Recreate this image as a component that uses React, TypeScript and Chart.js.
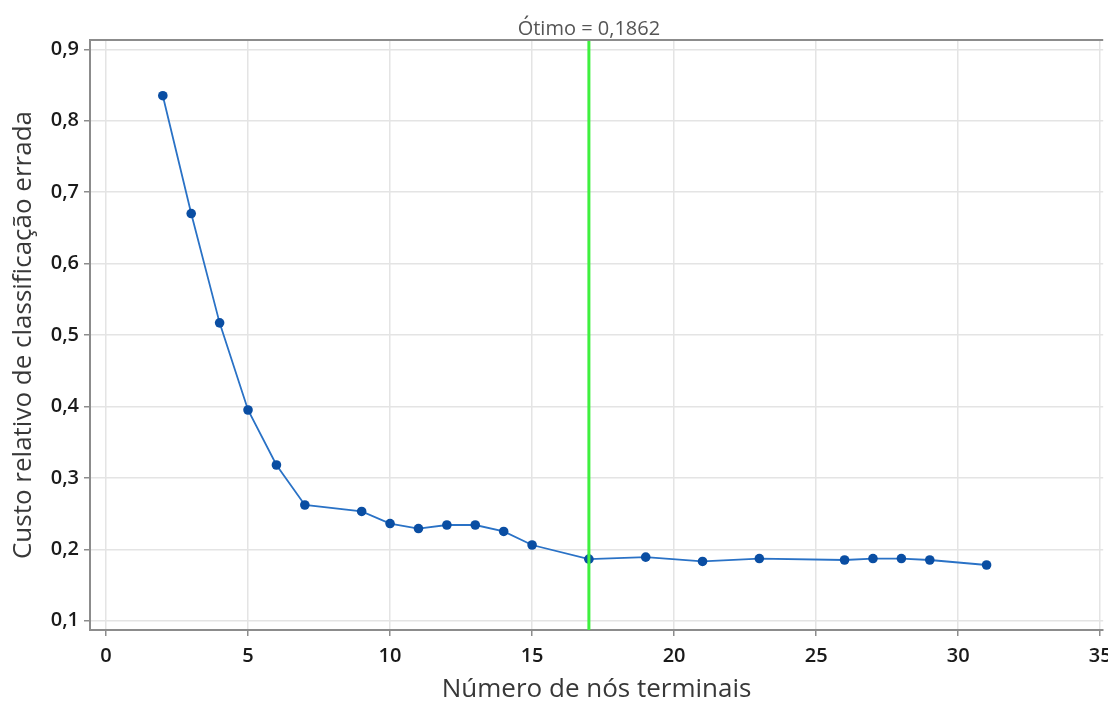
import React, { useEffect, useRef } from "react";
import { Chart, registerables } from "chart.js";

Chart.register(...registerables);

// Terminal-node counts and their relative misclassification cost
const terminalNodes = [2, 3, 4, 5, 6, 7, 9, 10, 11, 12, 13, 14, 15, 17, 19, 21, 23, 26, 27, 28, 29, 31];
const relativeCost = [
  0.835, 0.670, 0.517, 0.395, 0.318, 0.262, 0.253, 0.236, 0.229, 0.234, 0.234,
  0.225, 0.206, 0.1862, 0.189, 0.183, 0.187, 0.185, 0.187, 0.187, 0.185, 0.178,
];

// Selected tree size
const optimalNodes = 17;
const optimalCost = 0.1862;

const xTickValues = [0, 5, 10, 15, 20, 25, 30, 35];
const yTickValues = [0.1, 0.2, 0.3, 0.4, 0.5, 0.6, 0.7, 0.8, 0.9];

const xTitle = "Número de nós terminais";
const yTitle = "Custo relativo de classificação errada";
const optimalLabel = `Ótimo = ${optimalCost.toString().replace(".", ",")}`;

const FONT = "'Open Sans', 'Noto Sans', sans-serif";

const optimalLinePlugin = {
  id: "optimalLine",
  afterDatasetsDraw(chart: any) {
    const { ctx, chartArea, scales } = chart;
    const x = scales.x.getPixelForValue(optimalNodes);
    ctx.save();
    ctx.strokeStyle = "#3ff03f";
    ctx.lineWidth = 3;
    ctx.beginPath();
    ctx.moveTo(x, chartArea.top);
    ctx.lineTo(x, chartArea.bottom);
    ctx.stroke();
    ctx.restore();
  },
  afterDraw(chart: any) {
    const { ctx, chartArea, scales } = chart;
    const x = scales.x.getPixelForValue(optimalNodes);
    ctx.save();
    // top frame line
    ctx.strokeStyle = "#8c8c8c";
    ctx.lineWidth = 2;
    ctx.beginPath();
    ctx.moveTo(chartArea.left - 1, chartArea.top);
    ctx.lineTo(chartArea.right, chartArea.top);
    ctx.stroke();
    // optimum label
    ctx.fillStyle = "#555555";
    ctx.font = `20px ${FONT}`;
    ctx.textAlign = "center";
    ctx.textBaseline = "alphabetic";
    ctx.fillText(optimalLabel, x, chartArea.top - 5);
    ctx.restore();
  },
};

export default function App() {
  const canvasRef = useRef<HTMLCanvasElement | null>(null);

  useEffect(() => {
    if (!canvasRef.current) return;
    const points = terminalNodes.map((n, i) => ({ x: n, y: relativeCost[i] }));
    const chart = new Chart(canvasRef.current, {
      type: "scatter",
      data: {
        datasets: [
          {
            data: points,
            showLine: true,
            borderColor: "#2a72c6",
            borderWidth: 1.8,
            pointBackgroundColor: "#0a4ea3",
            pointBorderColor: "#0a4ea3",
            pointRadius: 4.8,
            pointBorderWidth: 0,
          },
        ],
      },
      options: {
        responsive: false,
        animation: false,
        devicePixelRatio: 1,
        layout: { padding: { top: 40, right: 0, left: 0, bottom: 0 } },
        plugins: { legend: { display: false }, tooltip: { enabled: false } },
        scales: {
          x: {
            type: "linear",
            min: -0.563,
            max: 35.105,
            afterBuildTicks: (s: any) => {
              s.ticks = xTickValues.map((v) => ({ value: v }));
            },
            afterFit: (s: any) => {
              s.height = 74;
              s.paddingLeft = 0;
              s.paddingRight = 0;
            },
            grid: { color: "#e4e4e4", lineWidth: 1.5, tickLength: 6, tickColor: "#8c8c8c", tickWidth: 1.5 },
            border: { color: "#8c8c8c", width: 2 },
            ticks: {
              color: "#1a1a1a",
              font: { family: FONT, size: 20, weight: "600" },
              padding: 8,
              maxRotation: 0,
              callback: (v: any) => String(v),
            },
            title: {
              display: true,
              text: xTitle,
              color: "#383838",
              font: { family: FONT, size: 26, lineHeight: 1.1 },
              padding: { top: 0, bottom: 0 },
            },
          },
          y: {
            type: "linear",
            min: 0.087,
            max: 0.913,
            afterBuildTicks: (s: any) => {
              s.ticks = yTickValues.map((v) => ({ value: v }));
            },
            afterFit: (s: any) => {
              s.width = 90;
              s.paddingTop = 0;
              s.paddingBottom = 0;
            },
            grid: { color: "#e4e4e4", lineWidth: 1.5, tickLength: 6, tickColor: "#8c8c8c", tickWidth: 1.5 },
            border: { color: "#8c8c8c", width: 2 },
            ticks: {
              color: "#1a1a1a",
              font: { family: FONT, size: 20, weight: "600" },
              padding: 5,
              callback: (v: any) => Number(v).toFixed(1).replace(".", ","),
            },
            title: {
              display: true,
              text: yTitle,
              color: "#383838",
              font: { family: FONT, size: 26, lineHeight: 1.1 },
              padding: { top: 9, bottom: 0 },
            },
          },
        },
      },
      plugins: [optimalLinePlugin],
    });
    return () => chart.destroy();
  }, []);

  return (
    <div style={{ position: "absolute", left: 0, top: 0, width: 1108, height: 704, background: "#ffffff" }}>
      <canvas ref={canvasRef} width={1108} height={704} />
    </div>
  );
}
